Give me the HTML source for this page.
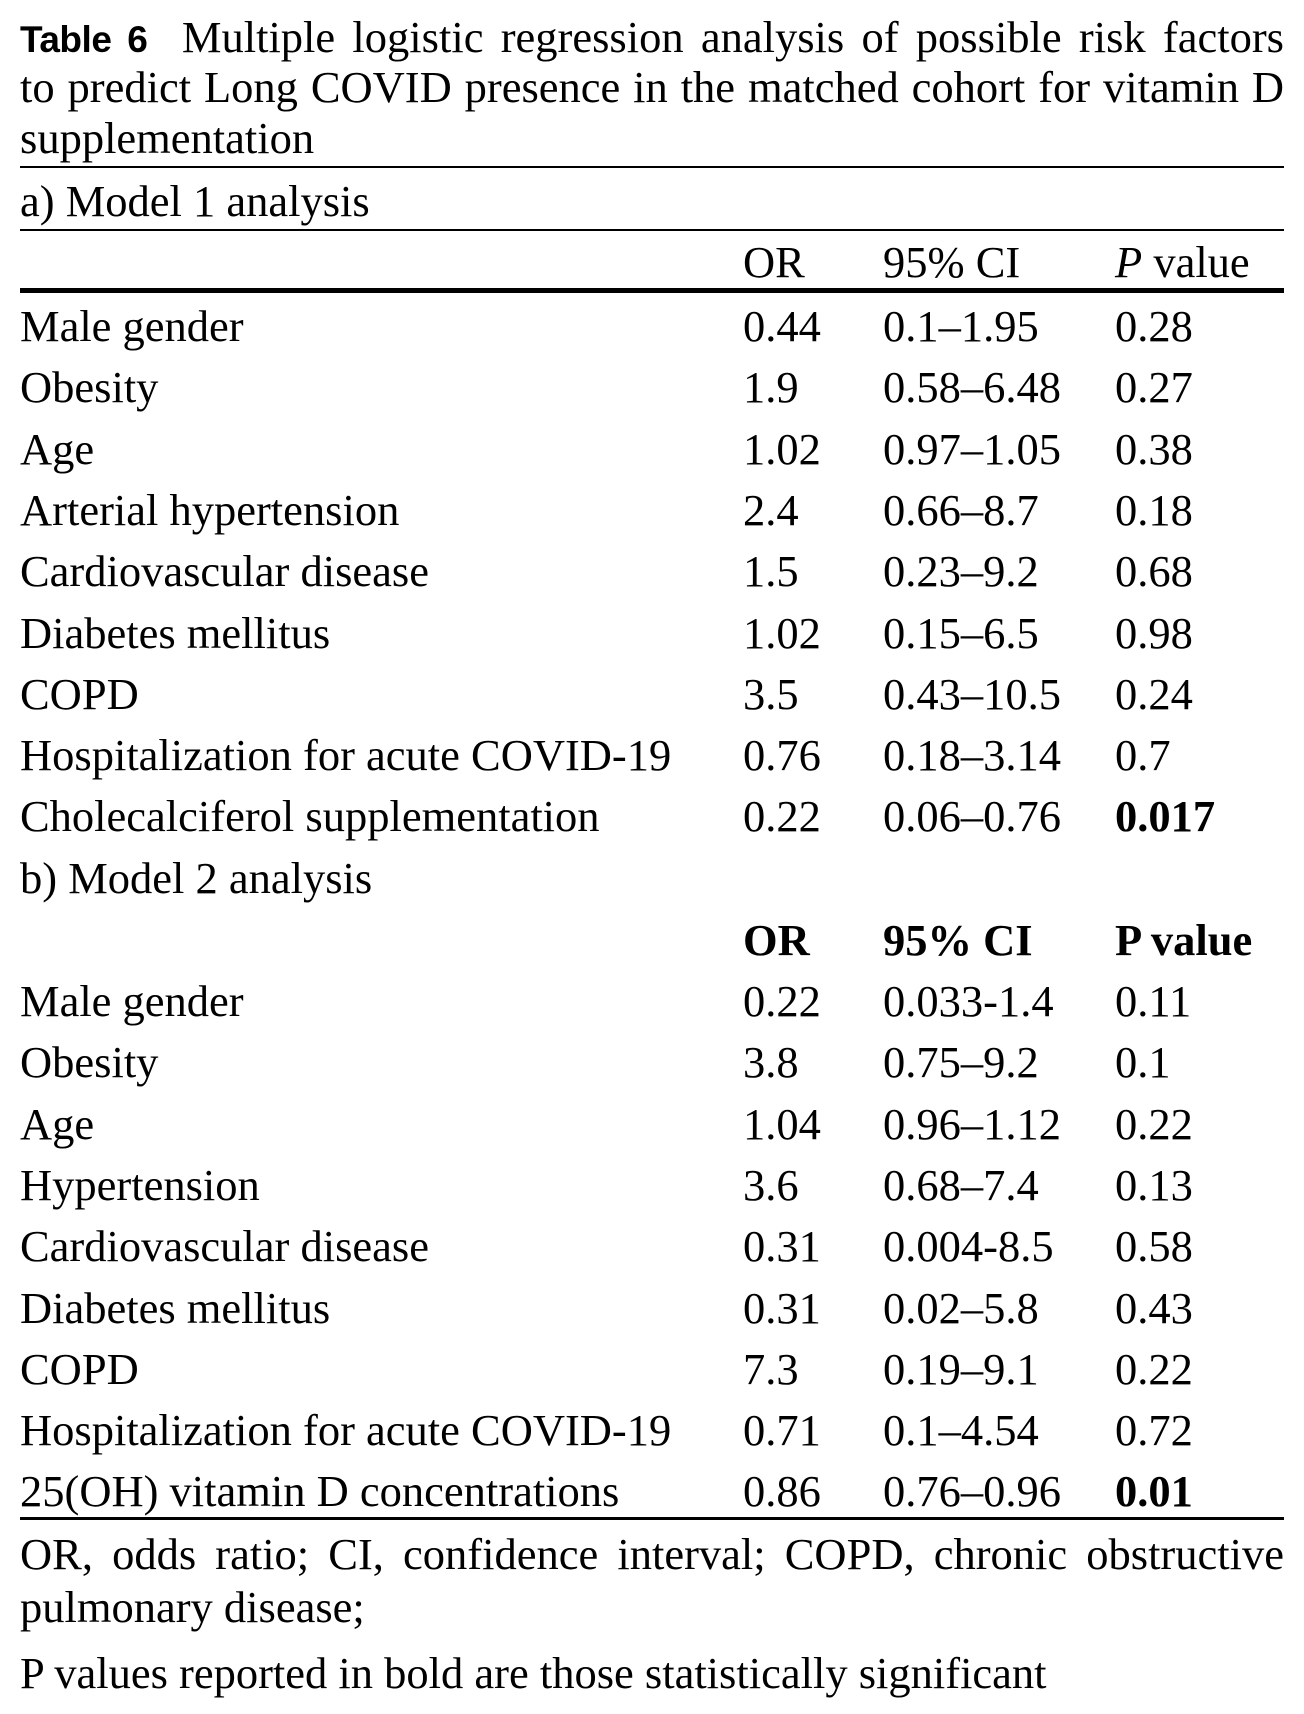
<!DOCTYPE html>
<html><head><meta charset="utf-8"><style>
body{margin:0;background:#fff;width:1304px;height:1714px;position:relative;overflow:hidden;font-family:"Liberation Serif",serif;color:#000;font-size:44.5px}
.t{position:absolute;white-space:nowrap;line-height:1;transform:translateY(-50%)}
.j{position:absolute;left:20px;width:1264px;text-align:justify;text-align-last:justify;line-height:1;transform:translateY(-50%);white-space:nowrap}
.r{position:absolute;left:20px;width:1264px;background:#000}
b.s{font-family:"Liberation Sans",sans-serif;font-size:37px;letter-spacing:-0.5px}
</style></head><body>
<div class="j" style="top:37px"><b class="s">Table 6</b>&nbsp; Multiple logistic regression analysis of possible risk factors</div>
<div class="j" style="top:87px">to predict Long COVID presence in the matched cohort for vitamin D</div>
<div class="t" style="left:20px;top:138px">supplementation</div>
<div class="r" style="top:166px;height:2px"></div>
<div class="t" style="left:20px;top:201px">a) Model 1 analysis</div>
<div class="r" style="top:229px;height:2px"></div>
<div class="t" style="left:743px;top:262px">OR</div>
<div class="t" style="left:883px;top:262px">95% CI</div>
<div class="t" style="left:1115px;top:262px"><i>P</i> value</div>
<div class="r" style="top:288px;height:5px"></div>
<div id="a"></div>
<div class="t" style="left:20px;top:878px">b) Model 2 analysis</div>
<div class="t" style="left:743px;top:940px"><b>OR</b></div>
<div class="t" style="left:883px;top:940px"><b>95% CI</b></div>
<div class="t" style="left:1115px;top:940px"><b>P value</b></div>
<div class="r" style="top:1517px;height:3px"></div>
<div class="j" style="top:1554px">OR, odds ratio; CI, confidence interval; COPD, chronic obstructive</div>
<div class="t" style="left:20px;top:1607px">pulmonary disease;</div>
<div class="t" style="left:20px;top:1673px">P values reported in bold are those statistically significant</div>
<script>
var A=[["Male gender","0.44","0.1–1.95","0.28"],["Obesity","1.9","0.58–6.48","0.27"],["Age","1.02","0.97–1.05","0.38"],["Arterial hypertension","2.4","0.66–8.7","0.18"],["Cardiovascular disease","1.5","0.23–9.2","0.68"],["Diabetes mellitus","1.02","0.15–6.5","0.98"],["COPD","3.5","0.43–10.5","0.24"],["Hospitalization for acute COVID-19","0.76","0.18–3.14","0.7"],["Cholecalciferol supplementation","0.22","0.06–0.76","<b>0.017</b>"]];
var B=[["Male gender","0.22","0.033-1.4","0.11"],["Obesity","3.8","0.75–9.2","0.1"],["Age","1.04","0.96–1.12","0.22"],["Hypertension","3.6","0.68–7.4","0.13"],["Cardiovascular disease","0.31","0.004-8.5","0.58"],["Diabetes mellitus","0.31","0.02–5.8","0.43"],["COPD","7.3","0.19–9.1","0.22"],["Hospitalization for acute COVID-19","0.71","0.1–4.54","0.72"],["25(OH) vitamin D concentrations","0.86","0.76–0.96","<b>0.01</b>"]];
var h="";function add(R,y0){R.forEach(function(r,i){var y=y0+i*61.3;[20,743,883,1115].forEach(function(x,k){h+='<div class="t" style="left:'+x+'px;top:'+y+'px">'+r[k]+'</div>';});});}
add(A,326);add(B,1001);document.getElementById("a").outerHTML=h;
</script>
</body></html>
